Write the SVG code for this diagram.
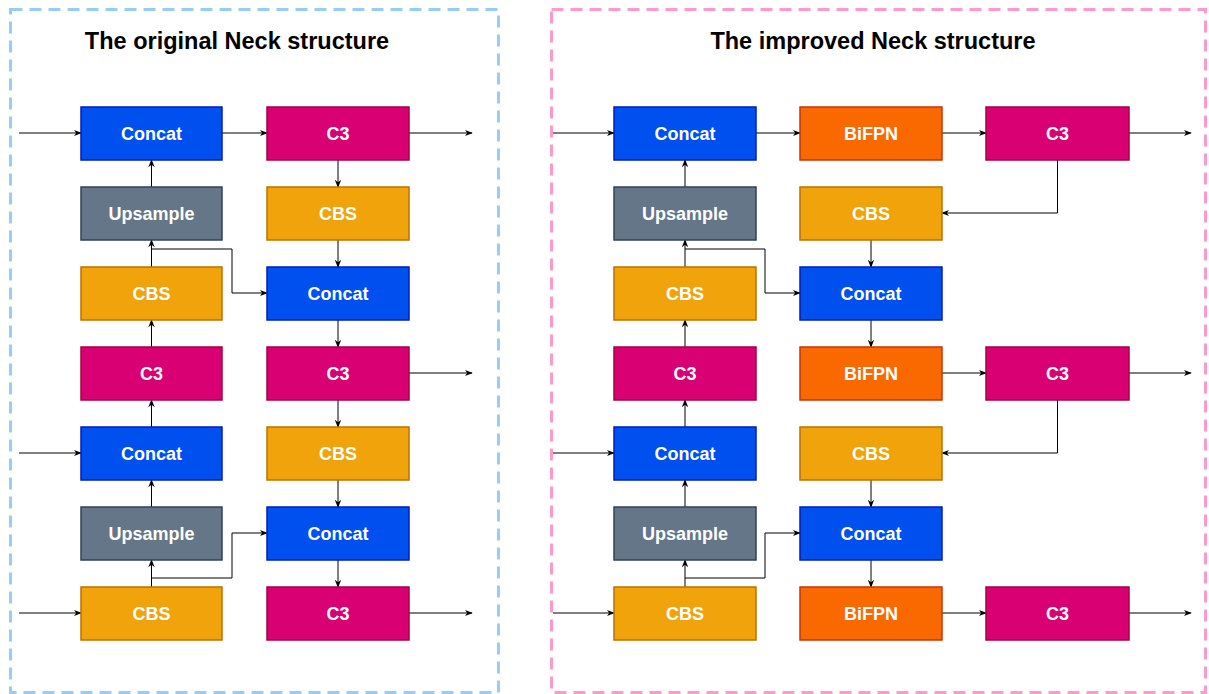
<svg xmlns="http://www.w3.org/2000/svg" width="1209" height="694" viewBox="0 0 1209 694">
<style>
.t{font-family:"Liberation Sans",Arial,sans-serif;font-weight:bold;font-size:18px;fill:#fff;text-anchor:middle;dominant-baseline:central}
.title{font-family:"Liberation Sans",Arial,sans-serif;font-weight:bold;font-size:23.5px;fill:#000;text-anchor:middle}
.concat{fill:#0050ef;stroke:#001dbc;stroke-width:1.5}
.c3{fill:#d80073;stroke:#a50040;stroke-width:1.5}
.cbs{fill:#f0a30a;stroke:#bd7000;stroke-width:1.5}
.up{fill:#647687;stroke:#314354;stroke-width:1.5}
.bifpn{fill:#fa6800;stroke:#c73500;stroke-width:1.5}
.e{fill:none;stroke:#000;stroke-width:1;marker-end:url(#a)}
</style>
<defs>
<marker id="a" viewBox="0 0 10 10" refX="9" refY="5" markerWidth="8" markerHeight="8" markerUnits="userSpaceOnUse" orient="auto">
<path d="M0,1 L10,5 L0,9 L3,5 Z" fill="#000"/>
</marker>
</defs>
<rect width="1209" height="694" fill="#fff"/>
<rect x="10.5" y="9.5" width="488" height="683" fill="none" stroke="#99ccf5" stroke-width="3" stroke-dasharray="12 7"/>
<rect x="551.5" y="9.5" width="654" height="683" fill="none" stroke="#ff99cc" stroke-width="3" stroke-dasharray="12 7"/>
<text class="title" x="237" y="49">The original Neck structure</text>
<text class="title" x="873" y="49">The improved Neck structure</text>

<g id="connectors">
<path class="e" d="M19,133 H81"/>
<path class="e" d="M19,453 H81"/>
<path class="e" d="M19,613 H81"/>
<path class="e" d="M151.5,587 V560"/>
<path class="e" d="M151.5,507 V480"/>
<path class="e" d="M151.5,427 V400"/>
<path class="e" d="M151.5,347 V320"/>
<path class="e" d="M151.5,267 V240"/>
<path class="e" d="M151.5,187 V160"/>
<path class="e" d="M222,133 H267"/>
<path class="e" d="M338,160 V187"/>
<path class="e" d="M338,240 V267"/>
<path class="e" d="M338,320 V347"/>
<path class="e" d="M338,400 V427"/>
<path class="e" d="M338,480 V507"/>
<path class="e" d="M338,560 V587"/>
<path class="e" d="M409,133 H472"/>
<path class="e" d="M409,373 H472"/>
<path class="e" d="M409,613 H472"/>
<path class="e" d="M151.5,249 H232 V293 H267"/>
<path class="e" d="M151.5,578 H232 V533 H267"/>
<path class="e" d="M553,133 H614"/>
<path class="e" d="M553,453 H614"/>
<path class="e" d="M553,613 H614"/>
<path class="e" d="M685,587 V560"/>
<path class="e" d="M685,507 V480"/>
<path class="e" d="M685,427 V400"/>
<path class="e" d="M685,347 V320"/>
<path class="e" d="M685,267 V240"/>
<path class="e" d="M685,187 V160"/>
<path class="e" d="M756,133 H800"/>
<path class="e" d="M942,133 H986"/>
<path class="e" d="M942,373 H986"/>
<path class="e" d="M942,613 H986"/>
<path class="e" d="M1129,133 H1191"/>
<path class="e" d="M1129,373 H1191"/>
<path class="e" d="M1129,613 H1191"/>
<path class="e" d="M1057.5,160 V213 H942"/>
<path class="e" d="M1057.5,400 V453 H942"/>
<path class="e" d="M871,240 V267"/>
<path class="e" d="M871,320 V347"/>
<path class="e" d="M871,480 V507"/>
<path class="e" d="M871,560 V587"/>
<path class="e" d="M685,249 H765 V293 H800"/>
<path class="e" d="M685,578 H765 V533 H800"/>
</g>

<g id="L_concat1"><rect class="concat" x="81" y="107" width="141" height="53"/><text class="t" x="151.5" y="133.5">Concat</text></g>
<g id="L_up1"><rect class="up" x="81" y="187" width="141" height="53"/><text class="t" x="151.5" y="213.5">Upsample</text></g>
<g id="L_cbs1"><rect class="cbs" x="81" y="267" width="141" height="53"/><text class="t" x="151.5" y="293.5">CBS</text></g>
<g id="L_c3a"><rect class="c3" x="81" y="347" width="141" height="53"/><text class="t" x="151.5" y="373.5">C3</text></g>
<g id="L_concat2"><rect class="concat" x="81" y="427" width="141" height="53"/><text class="t" x="151.5" y="453.5">Concat</text></g>
<g id="L_up2"><rect class="up" x="81" y="507" width="141" height="53"/><text class="t" x="151.5" y="533.5">Upsample</text></g>
<g id="L_cbs2"><rect class="cbs" x="81" y="587" width="141" height="53"/><text class="t" x="151.5" y="613.5">CBS</text></g>
<g id="L_c3b"><rect class="c3" x="267" y="107" width="142" height="53"/><text class="t" x="338" y="133.5">C3</text></g>
<g id="L_cbs3"><rect class="cbs" x="267" y="187" width="142" height="53"/><text class="t" x="338" y="213.5">CBS</text></g>
<g id="L_concat3"><rect class="concat" x="267" y="267" width="142" height="53"/><text class="t" x="338" y="293.5">Concat</text></g>
<g id="L_c3c"><rect class="c3" x="267" y="347" width="142" height="53"/><text class="t" x="338" y="373.5">C3</text></g>
<g id="L_cbs4"><rect class="cbs" x="267" y="427" width="142" height="53"/><text class="t" x="338" y="453.5">CBS</text></g>
<g id="L_concat4"><rect class="concat" x="267" y="507" width="142" height="53"/><text class="t" x="338" y="533.5">Concat</text></g>
<g id="L_c3d"><rect class="c3" x="267" y="587" width="142" height="53"/><text class="t" x="338" y="613.5">C3</text></g>

<g id="R_concat1"><rect class="concat" x="614" y="107" width="142" height="53"/><text class="t" x="685" y="133.5">Concat</text></g>
<g id="R_up1"><rect class="up" x="614" y="187" width="142" height="53"/><text class="t" x="685" y="213.5">Upsample</text></g>
<g id="R_cbs1"><rect class="cbs" x="614" y="267" width="142" height="53"/><text class="t" x="685" y="293.5">CBS</text></g>
<g id="R_c3a"><rect class="c3" x="614" y="347" width="142" height="53"/><text class="t" x="685" y="373.5">C3</text></g>
<g id="R_concat2"><rect class="concat" x="614" y="427" width="142" height="53"/><text class="t" x="685" y="453.5">Concat</text></g>
<g id="R_up2"><rect class="up" x="614" y="507" width="142" height="53"/><text class="t" x="685" y="533.5">Upsample</text></g>
<g id="R_cbs2"><rect class="cbs" x="614" y="587" width="142" height="53"/><text class="t" x="685" y="613.5">CBS</text></g>
<g id="R_bifpn1"><rect class="bifpn" x="800" y="107" width="142" height="53"/><text class="t" x="871" y="133.5">BiFPN</text></g>
<g id="R_cbs3"><rect class="cbs" x="800" y="187" width="142" height="53"/><text class="t" x="871" y="213.5">CBS</text></g>
<g id="R_concat3"><rect class="concat" x="800" y="267" width="142" height="53"/><text class="t" x="871" y="293.5">Concat</text></g>
<g id="R_bifpn2"><rect class="bifpn" x="800" y="347" width="142" height="53"/><text class="t" x="871" y="373.5">BiFPN</text></g>
<g id="R_cbs4"><rect class="cbs" x="800" y="427" width="142" height="53"/><text class="t" x="871" y="453.5">CBS</text></g>
<g id="R_concat4"><rect class="concat" x="800" y="507" width="142" height="53"/><text class="t" x="871" y="533.5">Concat</text></g>
<g id="R_bifpn3"><rect class="bifpn" x="800" y="587" width="142" height="53"/><text class="t" x="871" y="613.5">BiFPN</text></g>
<g id="R_c3b"><rect class="c3" x="986" y="107" width="143" height="53"/><text class="t" x="1057.5" y="133.5">C3</text></g>
<g id="R_c3c"><rect class="c3" x="986" y="347" width="143" height="53"/><text class="t" x="1057.5" y="373.5">C3</text></g>
<g id="R_c3d"><rect class="c3" x="986" y="587" width="143" height="53"/><text class="t" x="1057.5" y="613.5">C3</text></g>
</svg>
